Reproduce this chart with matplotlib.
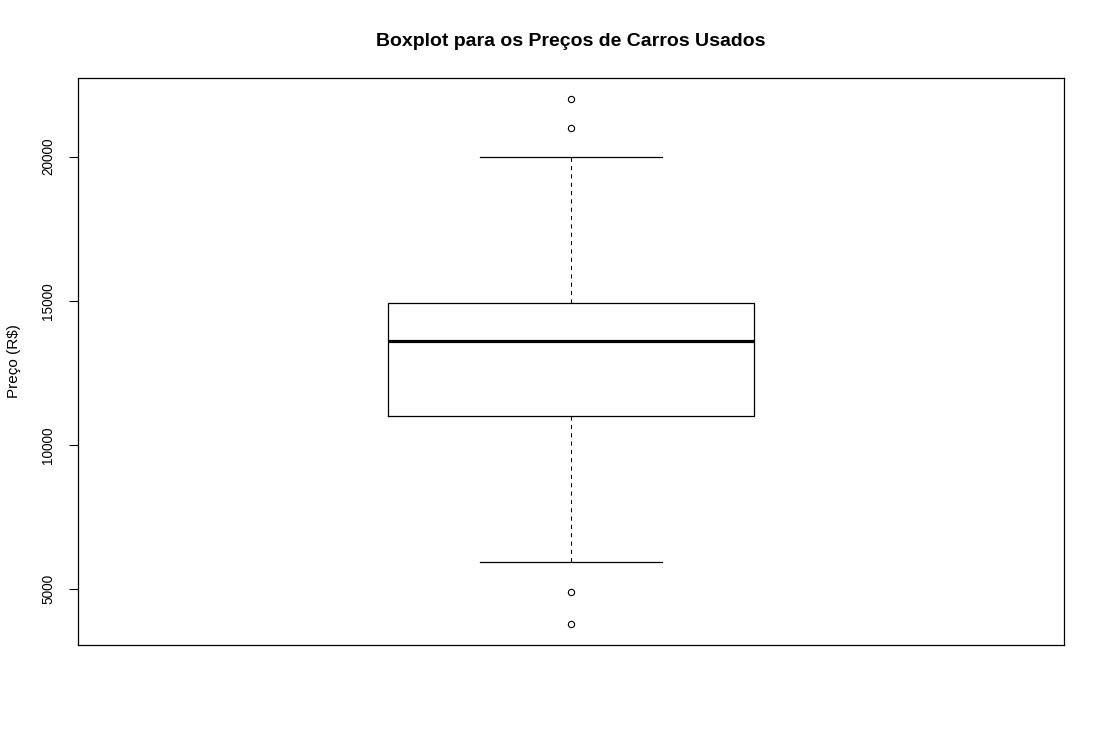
import matplotlib.pyplot as plt

plt.rcParams['font.family'] = ['Liberation Sans', 'DejaVu Sans']

# summary (R$)
q1 = 11000
median = 13600
q3 = 14920
whisker_low = 5960
whisker_high = 20000
outliers = [22000, 21000, 4900, 3800]
yticks = [5000, 10000, 15000, 20000]

stats = [{'med': median, 'q1': q1, 'q3': q3,
          'whislo': whisker_low, 'whishi': whisker_high,
          'fliers': outliers}]

fig = plt.figure(figsize=(11.05, 7.43), dpi=100)
ax = fig.add_axes([78/1105, 1 - 645/743, (1064-78)/1105, (645-78)/743])

ax.bxp(stats, positions=[1], widths=0.4, showcaps=True,
       boxprops=dict(color='black', linewidth=0.9),
       medianprops=dict(color='black', linewidth=2.3),
       whiskerprops=dict(color='black', linewidth=0.75, linestyle=(0, (4, 4))),
       capprops=dict(color='black', linewidth=0.9),
       flierprops=dict(marker='o', markerfacecolor='none', markeredgecolor='black',
                       markersize=4.5, markeredgewidth=0.8))

# R style: 4% padding around the data range
lo = min(outliers + [whisker_low])
hi = max(outliers + [whisker_high])
pad = (hi - lo) * 0.04
ax.set_ylim(lo - pad, hi + pad)
ax.set_xlim(0.46, 1.54)

ax.set_xticks([])
ax.set_yticks(yticks)
ax.set_yticklabels([str(v) for v in yticks], rotation=90, va='center', fontsize=9.8)
ax.tick_params(axis='y', length=6.5, width=0.8, pad=10)
for s in ax.spines.values():
    s.set_linewidth(0.9)

ax.set_ylabel('Preço (R$)', fontsize=11)
ax.yaxis.set_label_coords(-57/986, 0.5)
fig.suptitle('Boxplot para os Preços de Carros Usados', x=571/1105, y=1 - 41/743,
             va='center', fontsize=14, fontweight='bold')

fig.savefig('out.png', dpi=100)
